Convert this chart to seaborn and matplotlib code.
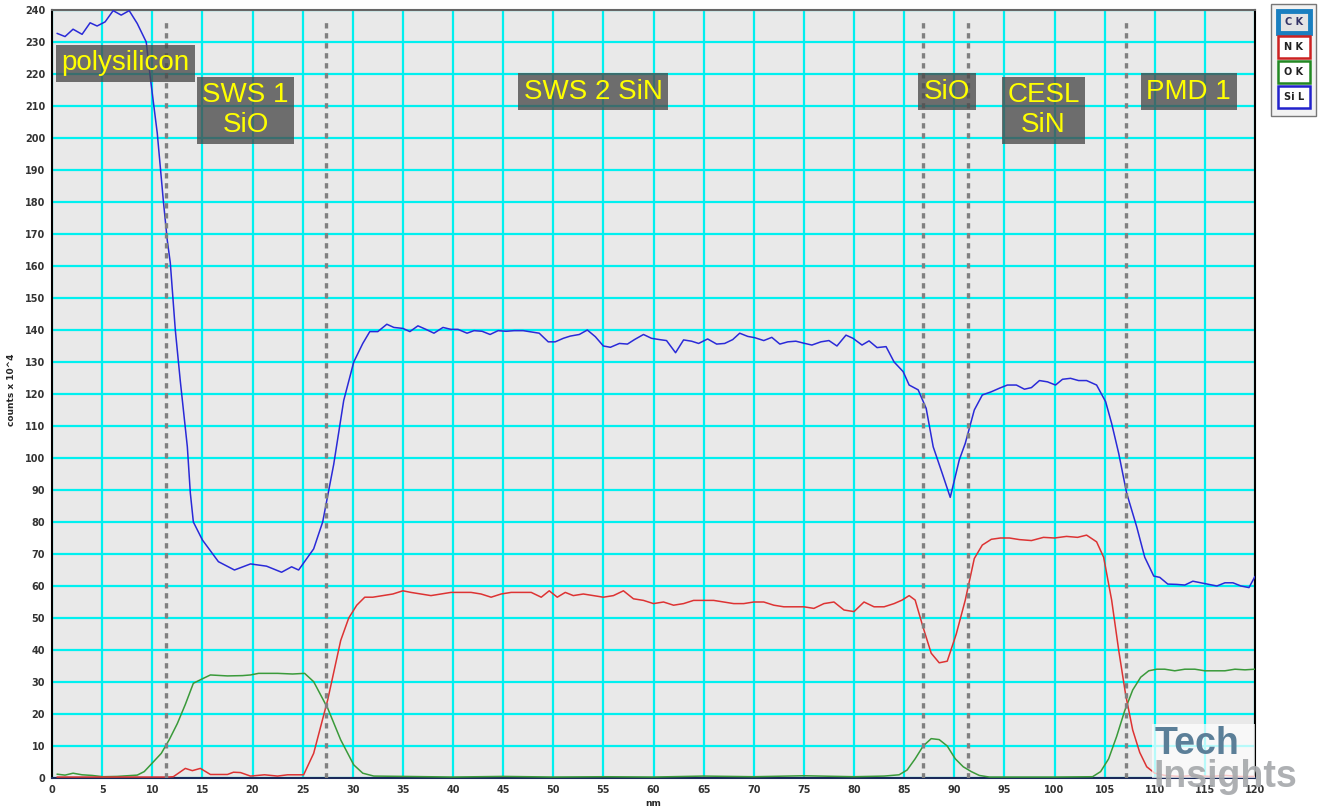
import matplotlib
matplotlib.use('Agg')
import matplotlib.pyplot as plt
import seaborn as sns
import pandas as pd
from matplotlib.patches import Rectangle

# Si L (blue)
sil_x = [0.5, 1.3, 2.1, 3.0, 3.8, 4.5, 5.3, 6.1, 6.9, 7.7,
         8.5, 9.4, 9.8, 10.5, 11.1, 11.5, 11.8, 12.3, 12.8, 13.5,
         13.8, 14.1, 15.0, 16.6, 18.2, 19.8, 21.4, 22.9, 23.9, 24.6,
         26.1, 27.0, 28.1, 29.1, 30.1, 31.0, 31.7, 32.5, 33.4, 34.1,
         35.0, 35.7, 36.5, 37.3, 38.1, 39.0, 39.8, 40.5, 41.4, 42.1,
         42.9, 43.7, 44.5, 45.3, 46.1, 47.0, 47.8, 48.6, 49.5, 50.2,
         51.0, 51.7, 52.6, 53.4, 54.2, 55.0, 55.7, 56.6, 57.4, 58.1,
         59.0, 59.8, 60.6, 61.3, 62.2, 63.0, 63.8, 64.5, 65.4, 66.3,
         67.1, 67.9, 68.6, 69.4, 70.1, 71.0, 71.8, 72.6, 73.4, 74.2,
         75.1, 75.8, 76.7, 77.5, 78.3, 79.2, 79.9, 80.8, 81.5, 82.3,
         83.2, 84.0, 84.9, 85.5, 86.4, 87.2, 87.9, 88.8, 89.6, 90.5,
         91.1, 92.0, 92.8, 93.7, 94.5, 95.3, 96.2, 97.0, 97.7, 98.5,
         99.3, 100.1, 100.8, 101.6, 102.4, 103.2, 104.2, 105.1, 105.7, 106.4,
         107.2, 108.2, 109.0, 109.9, 110.5, 111.3, 112.2, 113.0, 113.8, 114.6,
         115.4, 116.2, 117.0, 117.8, 118.6, 119.4, 120.0]
sil = [232.7, 231.7, 234, 232.4, 236, 235, 236.3, 239.8, 238.4, 239.8,
       235.8, 230, 219, 201.5, 180.6, 168, 161, 140, 124, 103.5,
       89, 80, 74.4, 67.6, 65, 66.9, 66.2, 64.3, 66, 65,
       71.6, 80, 98, 118, 130, 135.8, 139.5, 139.5, 141.8, 140.8,
       140.5, 139.5, 141.3, 140.2, 139, 140.8, 140.2, 140.2, 139, 139.8,
       139.6, 138.6, 139.8, 139.6, 139.8, 139.8, 139.4, 139, 136.3, 136.3,
       137.4, 138.1, 138.6, 140, 137.9, 135, 134.6, 135.8, 135.6, 137,
       138.6, 137.4, 137, 136.7, 132.9, 136.9, 136.5, 135.8, 137.2, 135.6,
       135.8, 137, 139, 138, 137.6, 136.7, 137.7, 135.6, 136.3, 136.5,
       135.8, 135.3, 136.3, 136.7, 135, 138.4, 137.4, 135.3, 136.6, 134.5,
       134.8, 130, 127, 122.8, 121.3, 115.5, 103.5, 95.2, 87.7, 99.4,
       104.6, 115, 119.7, 120.7, 121.8, 122.8, 122.8, 121.5, 122, 124.2,
       123.8, 122.8, 124.6, 124.9, 124.2, 124.2, 122.8, 117.6, 110.8, 101.5,
       89, 78.5, 69, 63.1, 62.7, 60.6, 60.5, 60.3, 61.5, 61,
       60.5, 60, 61, 61, 60, 59.5, 63]

# N K (red)
nk_x = [0.5, 5, 10, 11.5, 12.1, 13.3, 14.0, 14.8, 15.8, 17.5,
        18.1, 18.8, 19.8, 21.2, 22.5, 23.5, 25.1, 26.1, 27.5, 28.8,
        29.6, 30.4, 31.2, 32.0, 33.0, 34.0, 35.0, 35.8, 36.8, 37.8,
        38.8, 39.8, 40.8, 41.8, 42.8, 43.8, 44.8, 45.8, 46.8, 47.8,
        48.8, 49.6, 50.4, 51.2, 52.0, 53.0, 54.0, 55.0, 56.0, 57.0,
        58.0, 59.0, 60.0, 61.0, 62.0, 63.0, 64.0, 65.0, 66.0, 67.0,
        68.0, 69.0, 70.0, 71.0, 72.0, 73.0, 74.0, 75.0, 76.0, 77.0,
        78.0, 79.0, 80.0, 81.0, 82.0, 83.0, 84.0, 84.8, 85.5, 86.1,
        86.9, 87.7, 88.5, 89.3, 90.2, 91.1, 92.0, 92.8, 93.7, 94.6,
        95.5, 96.5, 97.7, 98.9, 100.0, 101.2, 102.3, 103.2, 104.2, 104.9,
        105.7, 106.4, 107.1, 107.8, 108.5, 109.2, 110.0, 111.0, 112.5, 114.0,
        115.5, 117.0, 118.5, 120.0]
nk = [0.3, 0.3, 0.3, 0.3, 0.4, 3, 2.3, 3, 1.1, 1.1,
      1.8, 1.7, 0.6, 1, 0.6, 1, 1, 7.7, 24.4, 43,
      50, 54, 56.5, 56.5, 57, 57.5, 58.5, 58, 57.5, 57,
      57.5, 58, 58, 58, 57.5, 56.5, 57.5, 58, 58, 58,
      56.5, 58.5, 56.5, 58, 57, 57.5, 57, 56.5, 57, 58.5,
      56, 55.5, 54.5, 55, 54, 54.5, 55.5, 55.5, 55.5, 55,
      54.5, 54.5, 55, 55, 54, 53.5, 53.5, 53.5, 53, 54.5,
      55, 52.5, 52, 55, 53.5, 53.5, 54.5, 55.6, 57, 55.6,
      47, 39, 36, 36.5, 45, 55.6, 68.6, 72.8, 74.6, 75,
      75, 74.5, 74.2, 75.2, 75, 75.5, 75.2, 75.9, 73.8, 69,
      55.6, 40, 26, 15, 8, 3.5, 1.5, 0.8, 0.5, 0.8,
      0.5, 0.8, 0.5, 0.5]

# O K (green)
ok_x = [0.5, 1.3, 2.1, 3.0, 4.0, 5.1, 6.5, 8.5, 9.2, 9.8,
        10.9, 11.7, 12.5, 13.3, 14.1, 15.0, 15.8, 17.5, 19.0, 19.8,
        20.6, 22.5, 24.0, 25.2, 26.1, 27.5, 28.8, 30.1, 31.0, 32.1,
        35, 40, 45, 50, 55, 60, 65, 70, 75, 80,
        83, 84.5, 85.3, 86.1, 86.9, 87.7, 88.5, 89.3, 90.1, 90.9,
        91.7, 92.5, 93.5, 96, 100, 103.8, 104.6, 105.4, 106.2, 107.0,
        107.8, 108.6, 109.4, 110.2, 111.0, 112.0, 113.0, 114.0, 115.0, 116.0,
        117.0, 118.0, 119.0, 120.0]
ok = [1.2, 0.9, 1.5, 1.0, 0.8, 0.4, 0.5, 0.9, 2, 4,
      7.7, 12, 17, 23, 29.6, 31, 32.2, 31.9, 32, 32.2,
      32.7, 32.7, 32.5, 32.7, 30.1, 21.8, 11.9, 4.1, 1.5, 0.6,
      0.5, 0.3, 0.5, 0.3, 0.4, 0.3, 0.6, 0.4, 0.7, 0.4,
      0.6, 1, 2.5, 6, 10, 12.3, 12, 10, 6, 3.5,
      2, 0.8, 0.3, 0.3, 0.3, 0.4, 2, 6, 13, 21,
      27.5, 31.5, 33.5, 34, 34, 33.5, 34, 34, 33.5, 33.5,
      33.5, 34, 33.8, 34]

boundaries = [11.4, 27.3, 86.9, 91.4, 107.1]
layer_names = ['polysilicon', 'SWS 1\nSiO', 'SWS 2 SiN', 'SiO', 'CESL\nSiN', 'PMD 1']
layer_x = [7.3, 19.3, 54.0, 89.3, 98.9, 113.4]
layer_y = [223.4, 208.7, 214.4, 214.4, 208.7, 214.4]
legend_items = ['C K', 'N K', 'O K', 'Si L']
legend_colors = ['#1a7fc0', '#cc2222', '#228822', '#2222cc']

sns.set_style('white')
plt.rcParams['font.family'] = ['DejaVu Sans']

W, H = 1322, 811
fig = plt.figure(figsize=(W / 100, H / 100), dpi=100)
ax = fig.add_axes([52 / W, 1 - 778 / H, (1255 - 52) / W, (778 - 10) / H])
ax.set_facecolor('#e9e9e9')

sns.lineplot(data=pd.DataFrame({'x': ok_x, 'y': ok}), x='x', y='y', ax=ax,
             color='#3a9a3a', lw=1.1, zorder=3)
sns.lineplot(data=pd.DataFrame({'x': nk_x, 'y': nk}), x='x', y='y', ax=ax,
             color='#dd3333', lw=1.1, zorder=3)
sns.lineplot(data=pd.DataFrame({'x': sil_x, 'y': sil}), x='x', y='y', ax=ax,
             color='#2a2ad8', lw=1.1, zorder=3)

ax.set_xlim(0, 120)
ax.set_ylim(0, 240)
ax.set_xticks(range(0, 121, 5))
ax.set_yticks(range(0, 241, 10))
ax.grid(True, color='#00f0f0', lw=1.6, zorder=0)
ax.set_axisbelow(True)
ax.tick_params(axis='both', labelsize=7, colors='#333333', length=3, width=1,
               direction='out', pad=2)
for lab in ax.get_xticklabels() + ax.get_yticklabels():
    lab.set_fontweight('bold')
ax.set_xlabel('nm', fontsize=6.5, fontweight='bold', labelpad=3)
ax.set_ylabel('')
fig.text(12 / W, 1 - 390 / H, 'counts x 10^4', rotation=90, ha='center',
         va='center', fontsize=6.5, fontweight='bold')
for s in ['left', 'right']:
    ax.spines[s].set_color('black')
    ax.spines[s].set_linewidth(1.5)
ax.spines['bottom'].set_color('#1a2a5a')
ax.spines['bottom'].set_linewidth(1.5)
ax.spines['top'].set_color('#666666')
ax.spines['top'].set_linewidth(1.5)

# layer boundaries
ax.vlines(boundaries, 0, 237, colors='#808080', linestyles=(0, (1.6, 1.4)),
          lw=2.4, zorder=4)

# layer labels
for name, lx, ly in zip(layer_names, layer_x, layer_y):
    ax.text(lx, ly, name, ha='center', va='center', color='#ffff00',
            fontsize=20, family=['Liberation Sans'], linespacing=1.2, zorder=6,
            bbox=dict(boxstyle='square,pad=0.2', facecolor='#4a4a4a',
                      alpha=0.78, edgecolor='none'))

# legend panel
fig.patches.append(Rectangle((1271 / W, 1 - 116 / H), 45 / W, 112 / H,
                             transform=fig.transFigure, facecolor='#f2f2f2',
                             edgecolor='#777777', lw=1))
for i, (item, col) in enumerate(zip(legend_items, legend_colors)):
    cy = 22 + i * 25
    lw = 3.5 if i == 0 else 1.8
    face = '#e4e4e4' if i == 0 else 'white'
    fig.patches.append(Rectangle((1278 / W, 1 - (cy + 11) / H), 32 / W, 22 / H,
                                 transform=fig.transFigure, facecolor=face,
                                 edgecolor=col, lw=lw))
    fig.text(1294 / W, 1 - cy / H, item, ha='center', va='center', fontsize=7,
             fontweight='bold', color='#333366' if i == 0 else '#222222')

# watermark
fig.patches.append(Rectangle((1152 / W, 1 - 778 / H), 103 / W, 54 / H,
                             transform=fig.transFigure, facecolor='white',
                             alpha=0.72, edgecolor='none', zorder=10))
fig.text(1155 / W, 1 - 744 / H, 'Tech', ha='left', va='center', fontsize=27,
         fontweight='bold', family=['Liberation Sans'], color='#5b7f98', zorder=11)
fig.text(1153 / W, 1 - 777 / H, 'Insights', ha='left', va='center', fontsize=27,
         fontweight='bold', family=['Liberation Sans'], color='#a5a8ab', alpha=0.9,
         zorder=11)

fig.savefig('out.png', dpi=100)
